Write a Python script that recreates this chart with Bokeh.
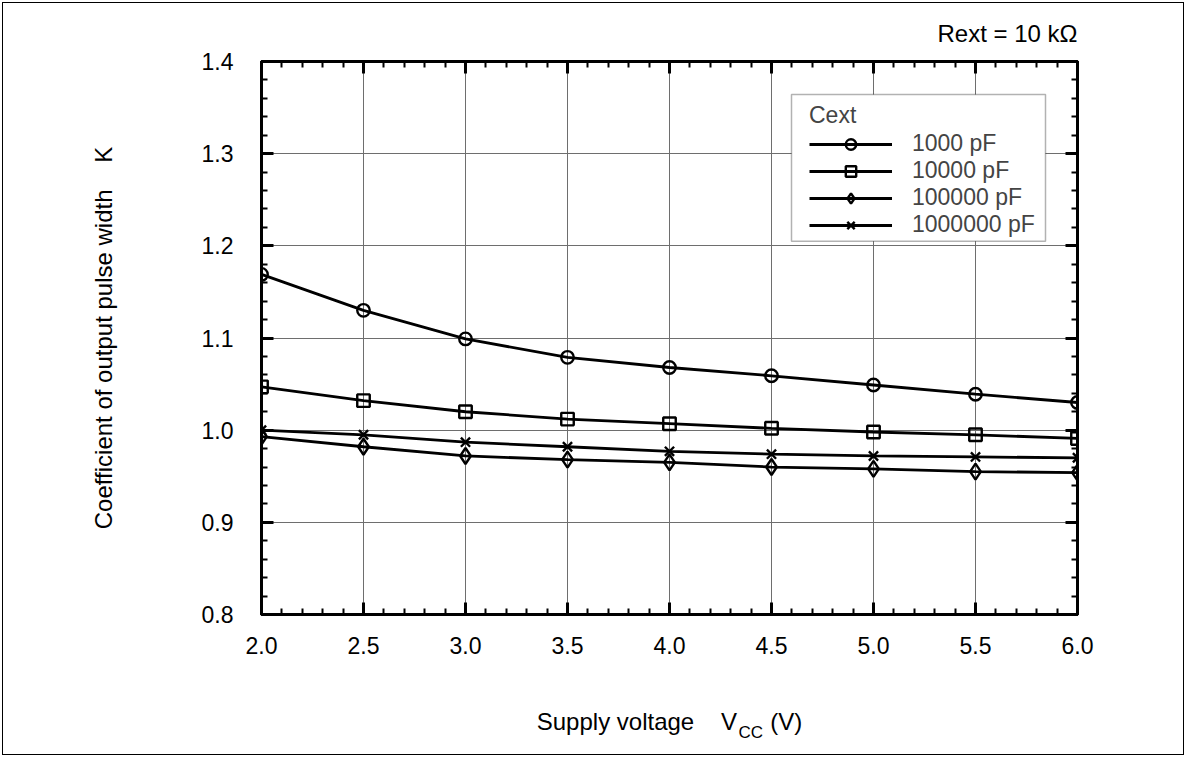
import math
from bokeh.plotting import figure
from bokeh.models import (Range1d, FixedTicker, LinearAxis, Label, Legend,
                          LegendItem, NumeralTickFormatter, BoxAnnotation)
from bokeh.embed import file_html
from bokeh.resources import INLINE

# ---------------- data ----------------
vcc = [2.0, 2.5, 3.0, 3.5, 4.0, 4.5, 5.0, 5.5, 6.0]
k_1000pF = [1.169, 1.130, 1.099, 1.079, 1.068, 1.059, 1.049, 1.039, 1.030]
k_10000pF = [1.047, 1.032, 1.020, 1.012, 1.007, 1.002, 0.998, 0.995, 0.991]
k_100000pF = [0.993, 0.982, 0.972, 0.968, 0.965, 0.960, 0.958, 0.955, 0.954]
k_1000000pF = [1.000, 0.995, 0.987, 0.982, 0.977, 0.974, 0.972, 0.971, 0.970]
series_labels = ["1000 pF", "10000 pF", "100000 pF", "1000000 pF"]
x_ticks = [2.0, 2.5, 3.0, 3.5, 4.0, 4.5, 5.0, 5.5, 6.0]
y_ticks = [0.8, 0.9, 1.0, 1.1, 1.2, 1.3, 1.4]
x_minor = [round(2.0 + 0.1 * i, 2) for i in range(41)]
y_minor = [round(0.8 + 0.02 * i, 3) for i in range(31)]

FONT = "Liberation Sans"
FS_TICK = "23px"
FS = "24px"
NB = "\u00a0"

# page geometry of the frame (for placing free labels)
FL, FR, FT, FB = 262, 1078, 62, 616
OX, OY = 4, 4
W, H = 1182, 753


def dx(px):
    return 2.0 + (px - FL) / (FR - FL) * 4.0


def dy(py):
    return 1.4 - (py - FT) / (FB - FT) * 0.6


p = figure(width=W, height=H, x_range=Range1d(2.0, 6.0), y_range=Range1d(0.8, 1.4),
           output_backend="svg", toolbar_location=None,
           min_border_left=FL - OX, min_border_right=(OX + W) - FR,
           min_border_top=FT - OY, min_border_bottom=(OY + H) - FB)
p.styles = {"border": "1px solid black", "margin-left": "2px", "margin-top": "2px"}
p.background_fill_color = "white"
p.border_fill_color = "white"
p.outline_line_color = "black"
p.outline_line_width = 3
p.title.visible = False

xt = FixedTicker(ticks=x_ticks, minor_ticks=x_minor)
yt = FixedTicker(ticks=y_ticks, minor_ticks=y_minor)


def style_axis(ax, show_labels):
    ax.axis_line_width = 3
    ax.axis_line_color = "black"
    ax.major_tick_in = 12
    ax.major_tick_out = 0
    ax.minor_tick_in = 6
    ax.minor_tick_out = 0
    ax.major_tick_line_width = 3
    ax.minor_tick_line_width = 2
    ax.major_tick_line_color = "black"
    ax.minor_tick_line_color = "black"
    ax.major_label_text_font = FONT
    ax.major_label_text_font_size = FS_TICK
    ax.major_label_text_color = "black"
    ax.formatter = NumeralTickFormatter(format="0.0")
    ax.axis_label_text_font = FONT
    ax.axis_label_text_font_size = FS
    ax.axis_label_text_font_style = "normal"
    ax.axis_label_text_color = "black"
    if not show_labels:
        ax.major_label_text_font_size = "0px"
        ax.major_label_text_alpha = 0
        ax.major_label_standoff = 0


xa = p.xaxis[0]
ya = p.yaxis[0]
xa.ticker = xt
ya.ticker = yt
style_axis(xa, True)
style_axis(ya, True)
xa.major_label_standoff = 22
ya.major_label_standoff = 28
xa.axis_label = "Supply voltage" + NB * 4 + "V" + NB * 5 + "(V)"
xa.axis_label_standoff = 51
ya.axis_label = "Coefficient of output pulse width" + NB * 4 + "K"
ya.axis_label_standoff = 82

ra = LinearAxis(ticker=FixedTicker(ticks=y_ticks, minor_ticks=y_minor))
ta = LinearAxis(ticker=FixedTicker(ticks=x_ticks, minor_ticks=x_minor))
style_axis(ra, False)
style_axis(ta, False)
p.add_layout(ra, "right")
p.add_layout(ta, "above")

p.xgrid.ticker = xt
p.ygrid.ticker = yt
for g in (p.xgrid[0], p.ygrid[0]):
    g.grid_line_color = "#6e6e6e"
    g.grid_line_width = 1

# ---------------- series ----------------
LW = 2.8
items = []
specs = [
    (k_1000pF, "circle", 12.5),
    (k_10000pF, "square", 12.5),
    (k_100000pF, "diamond", 16),
    (k_1000000pF, "x", 13),
]
for (ys, mk, sz), lab in zip(specs, series_labels):
    ln = p.line(vcc, ys, line_color="black", line_width=LW)
    sc = p.scatter(vcc, ys, marker=mk, size=sz,
                   line_color="black", line_width=2.4, fill_alpha=0)
    items.append(LegendItem(label=lab, renderers=[ln, sc]))

# legend frame box (drawn separately so that the box can be placed exactly)
p.add_layout(BoxAnnotation(left=dx(792), right=dx(1046), top=dy(95), bottom=dy(242),
                           fill_color="white", fill_alpha=1.0,
                           line_color="black", line_width=1.5))

LP = 5
legend = Legend(items=items, location=(810 - LP - FL, FB - 245), title="Cext")
legend.margin = 0
legend.padding = LP
legend.spacing = 0
legend.glyph_width = 83
legend.glyph_height = 26
legend.label_height = 26
legend.label_standoff = 20
legend.title_standoff = 1
legend.border_line_alpha = 0
legend.background_fill_alpha = 0
legend.label_text_font = FONT
legend.label_text_font_size = FS_TICK
legend.title_text_font = FONT
legend.title_text_font_size = FS_TICK
legend.title_text_font_style = "normal"
p.add_layout(legend)

# texts outside the frame: placed in side panels so they are not clipped
p.add_layout(Label(x=dx(FR), y=dy(34), text="Rext = 10 k\u03a9", text_font=FONT,
                   text_font_size=FS, text_align="right",
                   text_baseline="alphabetic", text_color="black"), "above")
p.add_layout(Label(x=dx(739), y=dy(734), text="CC", text_font=FONT,
                   text_font_size="17px", text_align="left",
                   text_baseline="alphabetic", text_color="black"), "below")

open("out.html", "w").write(file_html(p, INLINE))
